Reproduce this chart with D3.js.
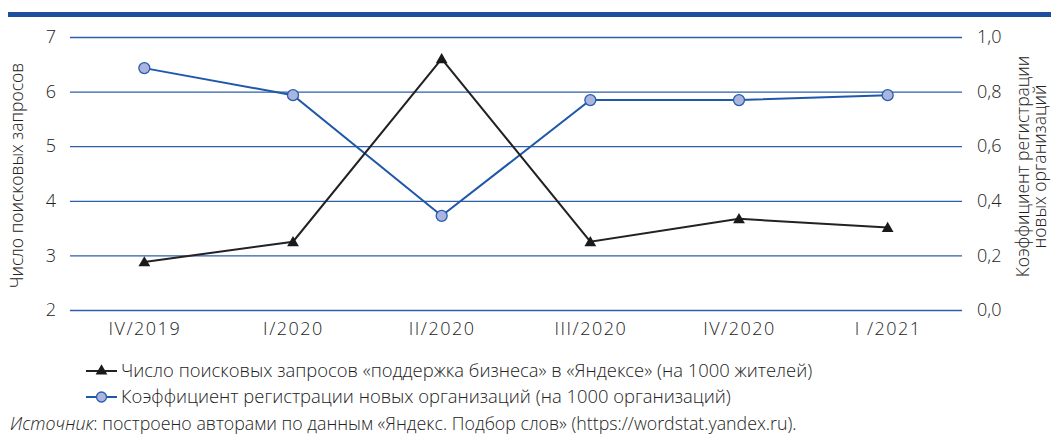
<!DOCTYPE html>
<html>
<head>
<meta charset="utf-8">
<script src="https://cdn.jsdelivr.net/npm/d3@7"></script>
<style>
  body { margin: 0; background: #fff; }
  svg { display: block; font-family: "Open Sans", "Noto Sans", sans-serif; font-weight: 300; }
</style>
</head>
<body>
<div id="chart"></div>
<script>
// quarters along the x axis
const quarters = ["IV/2019", "I/2020", "II/2020", "III/2020", "IV/2020", "I /2021"];
// search queries per 1000 residents (left axis)
const searches = [2.88, 3.25, 6.6, 3.25, 3.67, 3.51];
// new organisations registration rate per 1000 (right axis)
const regRate = [0.886, 0.787, 0.345, 0.769, 0.769, 0.787];
const leftTicks = [2, 3, 4, 5, 6, 7];
const rightTicks = [0, 0.2, 0.4, 0.6, 0.8, 1.0];

const FONT = '"Open Sans", "Noto Sans", sans-serif';

const width = 1051, height = 440,
    margin = ({ top: 37, right: 89, bottom: 130, left: 70 });

const svg = d3.select("#chart")
  .append("svg")
  .attr("width", width)
  .attr("height", height);

// top rule
svg.append("rect")
  .attr("x", 8).attr("y", 12)
  .attr("width", width - 8).attr("height", 5)
  .attr("fill", "#1d4f9c");

const x = d3.scalePoint()
  .domain(quarters)
  .range([margin.left, width - margin.right])
  .padding(0.5);

const yL = d3.scaleLinear()
  .domain([2, 7])
  .range([height - margin.bottom, margin.top]);

const yR = d3.scaleLinear()
  .domain([0, 1])
  .range([height - margin.bottom, margin.top]);

// gridlines (shared by both axes)
svg.append("g")
  .selectAll("line")
  .data(leftTicks)
  .join("line")
  .attr("x1", margin.left)
  .attr("x2", width - margin.right)
  .attr("y1", d => yL(d) + 0.5)
  .attr("y2", d => yL(d) + 0.5)
  .attr("stroke", "#2d5fa8")
  .attr("stroke-width", 1.3);

// axes - d3 puts its own font on the group, override it
function styleAxis(g) {
  g.attr("font-family", FONT).attr("font-size", 18);
  g.select(".domain").remove();
  g.selectAll("text").attr("fill", "#222");
}

const gl = svg.append("g")
  .attr("transform", `translate(${margin.left},0)`)
  .call(d3.axisLeft(yL).tickValues(leftTicks).tickSize(0).tickPadding(14).tickFormat(d3.format("d")))
  .call(styleAxis);

const gr = svg.append("g")
  .attr("transform", `translate(${width - margin.right},0)`)
  .call(d3.axisRight(yR).tickValues(rightTicks).tickSize(0).tickPadding(15)
    .tickFormat(d => d3.format(".1f")(d).replace(".", ",")))
  .call(styleAxis);

const gb = svg.append("g")
  .attr("transform", `translate(0,${height - margin.bottom})`)
  .call(d3.axisBottom(x).tickSize(0).tickPadding(12))
  .call(styleAxis);
gb.selectAll("text").attr("letter-spacing", 1.5);

// axis titles
svg.append("text")
  .attr("transform", `translate(23,${(height - margin.bottom + margin.top) / 2 + 2}) rotate(-90)`)
  .attr("text-anchor", "middle")
  .attr("font-size", 17.5)
  .attr("fill", "#222")
  .text("Число поисковых запросов");

const rt = svg.append("text")
  .attr("transform", `translate(1029,${(height - margin.bottom + margin.top) / 2 - 7}) rotate(-90)`)
  .attr("text-anchor", "middle")
  .attr("font-size", 17.5)
  .attr("fill", "#222");
rt.append("tspan").attr("x", 0).attr("dy", 0).text("Коэффициент регистрации");
rt.append("tspan").attr("x", 0).attr("dy", 17).text("новых организаций");

// lines
const lineL = d3.line()
  .x((d, i) => x(quarters[i]))
  .y(d => yL(d));

const lineR = d3.line()
  .x((d, i) => x(quarters[i]))
  .y(d => yR(d));

svg.append("path")
  .datum(regRate)
  .attr("d", lineR)
  .attr("fill", "none")
  .attr("stroke", "#1f58aa")
  .attr("stroke-width", 2);

svg.append("path")
  .datum(searches)
  .attr("d", lineL)
  .attr("fill", "none")
  .attr("stroke", "#222")
  .attr("stroke-width", 2);

const tri = d3.symbol().type(d3.symbolTriangle).size(60);

svg.append("g")
  .selectAll("path")
  .data(searches)
  .join("path")
  .attr("transform", (d, i) => `translate(${x(quarters[i])},${yL(d) + 1})`)
  .attr("d", tri)
  .attr("fill", "#1a1a1a");

svg.append("g")
  .selectAll("circle")
  .data(regRate)
  .join("circle")
  .attr("cx", (d, i) => x(quarters[i]))
  .attr("cy", d => yR(d))
  .attr("r", 5.5)
  .attr("fill", "#a9b5de")
  .attr("stroke", "#2a5cad")
  .attr("stroke-width", 1.3);

// legend
const legend = [
  { label: "Число поисковых запросов «поддержка бизнеса» в «Яндексе» (на 1000 жителей)", kind: "tri", y: 371 },
  { label: "Коэффициент регистрации новых организаций (на 1000 организаций)", kind: "circle", y: 397 }
];

const lg = svg.append("g");
legend.forEach(l => {
  const g = lg.append("g").attr("transform", `translate(86,${l.y})`);
  g.append("line")
    .attr("x1", 0).attr("x2", 31)
    .attr("stroke", l.kind === "tri" ? "#222" : "#1f58aa")
    .attr("stroke-width", 2);
  if (l.kind === "tri") {
    g.append("path").attr("d", tri).attr("transform", "translate(15.5,0)").attr("fill", "#1a1a1a");
  } else {
    g.append("circle").attr("cx", 15.5).attr("r", 5).attr("fill", "#a9b5de")
      .attr("stroke", "#2a5cad").attr("stroke-width", 1.3);
  }
  g.append("text")
    .attr("x", 35).attr("dy", "0.35em")
    .attr("font-size", 18.4)
    .attr("fill", "#222")
    .text(l.label);
});

// source note
const src = svg.append("text")
  .attr("x", 10).attr("y", 430)
  .attr("font-size", 17.8)
  .attr("fill", "#222");
src.append("tspan").attr("font-style", "italic").text("Источник");
src.append("tspan").text(": построено авторами по данным «Яндекс. Подбор слов» (https://wordstat.yandex.ru).");
</script>
</body>
</html>
